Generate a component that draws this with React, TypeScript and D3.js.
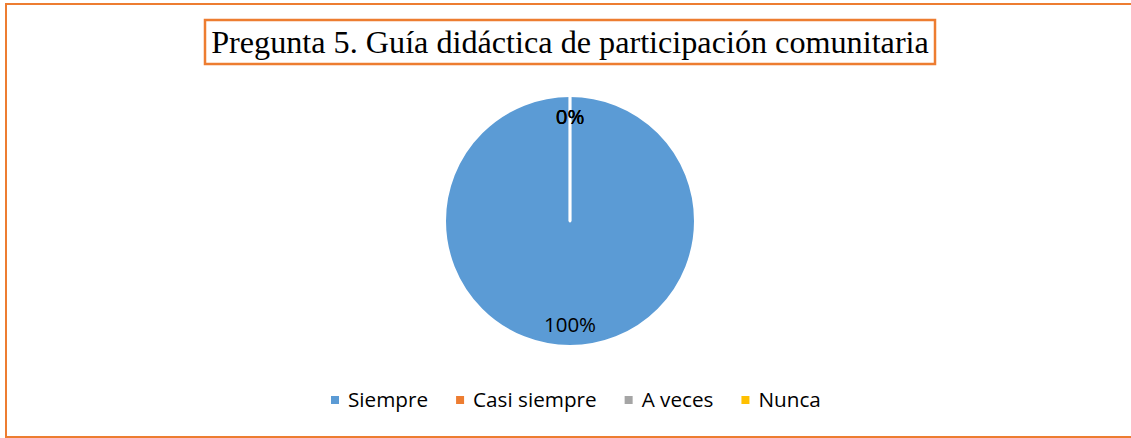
import React, { useEffect, useRef } from "react";
import * as d3 from "d3";

const categories = ["Siempre", "Casi siempre", "A veces", "Nunca"];
const values = [100, 0, 0, 0];
const colors = ["#5B9BD5", "#ED7D31", "#A5A5A5", "#FFC000"];
const title = "Pregunta 5. Guía didáctica de participación comunitaria";

const W = 1131;
const H = 438;

export default function App() {
  const ref = useRef<SVGSVGElement>(null);

  useEffect(() => {
    const svg = d3.select(ref.current);
    svg.selectAll("*").remove();

    // outer border
    svg.append("rect")
      .attr("x", 6).attr("y", 4).attr("width", W + 10).attr("height", 433)
      .attr("fill", "#fff").attr("stroke", "#ED7D31").attr("stroke-width", 2);

    // title
    const cx = 570;
    svg.append("rect")
      .attr("x", 205).attr("y", 20).attr("width", 730).attr("height", 44)
      .attr("fill", "#fff").attr("stroke", "#ED7D31").attr("stroke-width", 2.5);
    svg.append("text")
      .attr("x", cx).attr("y", 53)
      .attr("text-anchor", "middle")
      .attr("font-family", "'Liberation Serif', 'Times New Roman', serif")
      .attr("font-size", 32.2)
      .attr("fill", "#000")
      .text(title);

    // pie
    const cy = 221;
    const r = 125;
    const total = d3.sum(values);
    const pie = d3.pie<number>().sort(null).value((d) => d);
    const arcs = pie(values);
    const arc = d3.arc<d3.PieArcDatum<number>>().innerRadius(0).outerRadius(r);
    const labelArc = d3.arc<d3.PieArcDatum<number>>().innerRadius(104).outerRadius(104);

    const g = svg.append("g").attr("transform", `translate(${cx},${cy})`);
    g.selectAll("path.slice")
      .data(arcs)
      .join("path")
      .attr("class", "slice")
      .attr("d", (d) => arc(d) as string)
      .attr("fill", (_, i) => colors[i])
      .attr("stroke", "#fff")
      .attr("stroke-width", 2)
      .attr("stroke-linejoin", "round");
    // separators for zero slices
    arcs.forEach((d) => {
      if (d.endAngle - d.startAngle === 0) {
        const a = d.startAngle;
        g.append("line")
          .attr("x1", 0).attr("y1", 0)
          .attr("x2", r * Math.sin(a)).attr("y2", -r * Math.cos(a))
          .attr("stroke", "#fff").attr("stroke-width", 2.5)
          .attr("stroke-linecap", "round");
      }
    });

    g.selectAll("text.lbl")
      .data(arcs)
      .join("text")
      .attr("class", "lbl")
      .attr("transform", (d) => {
        const [x, y] = labelArc.centroid(d);
        return `translate(${x},${y})`;
      })
      .attr("text-anchor", "middle")
      .attr("dy", "0.36em")
      .attr("font-family", "'Open Sans', 'Noto Sans', sans-serif")
      .attr("font-size", 20.5)
      .attr("fill", "#000")
      .text((d) => `${Math.round((d.data / total) * 100)}%`);

    // legend
    const lg = svg.append("g").attr("transform", `translate(0,400)`);
    let x = 331;
    categories.forEach((c, i) => {
      lg.append("rect")
        .attr("x", x).attr("y", -4).attr("width", 8).attr("height", 8)
        .attr("fill", colors[i]);
      const t = lg.append("text")
        .attr("x", x + 17).attr("y", 0)
        .attr("dy", "0.36em")
        .attr("font-family", "'Open Sans', 'Noto Sans', sans-serif")
        .attr("font-size", 20.7)
        .attr("fill", "#000")
        .text(c);
      const w = (t.node() as SVGTextElement).getComputedTextLength();
      x = x + 17 + w + 28;
    });
  }, []);

  return (
    <div style={{ position: "absolute", left: 0, top: 0 }}>
      <svg ref={ref} width={W} height={H} style={{ display: "block" }} />
    </div>
  );
}
